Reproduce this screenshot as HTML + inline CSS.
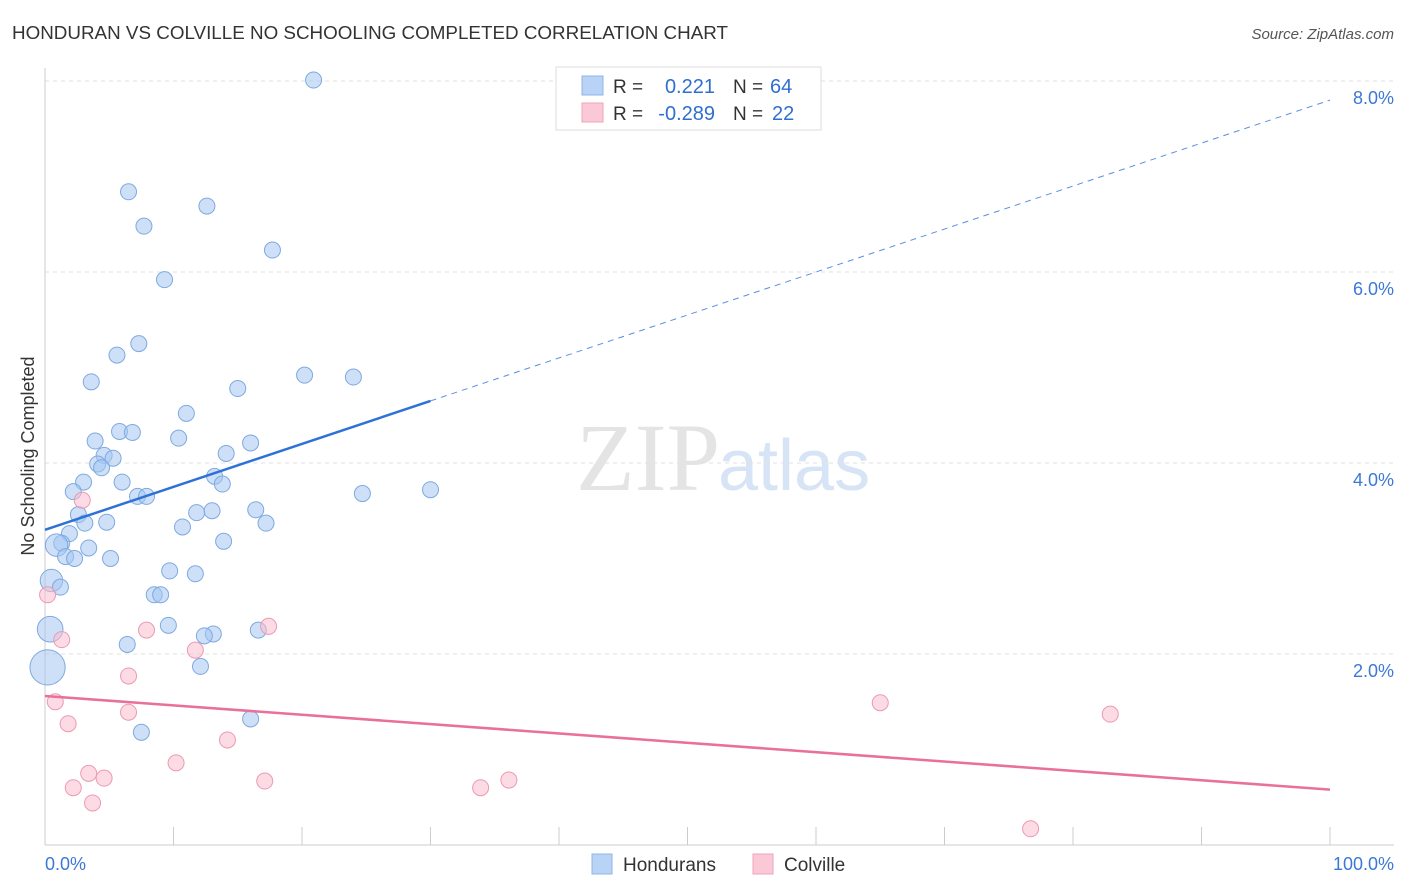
<!DOCTYPE html>
<html><head><meta charset="utf-8"><style>
body{margin:0;background:#fff;font-family:"Liberation Sans",sans-serif}
svg{display:block}
</style></head><body>
<svg id="c" width="1406" height="892">
<text x="12" y="39" font-size="18" fill="#333" textLength="716" lengthAdjust="spacingAndGlyphs">HONDURAN VS COLVILLE NO SCHOOLING COMPLETED CORRELATION CHART</text>
<text x="1394" y="39" font-size="15" fill="#555" font-style="italic" text-anchor="end">Source: ZipAtlas.com</text>
<text x="720" y="490" font-size="96" fill="#e4e4e4" text-anchor="end" font-family="Liberation Serif">ZIP</text>
<text x="718" y="490" font-size="72" fill="#d6e4f5">atlas</text>
<text transform="translate(34,456) rotate(-90)" font-size="18" fill="#333" text-anchor="middle">No Schooling Completed</text>
<g id="grid"></g><g id="marks"></g>
<g>
<rect x="556" y="67" width="265" height="63" fill="#fff" stroke="#ddd"/>
<rect x="582" y="76" width="21" height="19" fill="#b8d3f5" stroke="#8fb5e8"/>
<rect x="582" y="103" width="21" height="19" fill="#fac8d6" stroke="#eda5ba"/>
<text x="613" y="93" font-size="19" fill="#333">R =</text><text x="715" y="93" font-size="20" fill="#2f6fcf" text-anchor="end">0.221</text>
<text x="733" y="93" font-size="19" fill="#333">N =</text><text x="770" y="93" font-size="20" fill="#2f6fcf">64</text>
<text x="613" y="120" font-size="19" fill="#333">R =</text><text x="715" y="120" font-size="20" fill="#2f6fcf" text-anchor="end">-0.289</text>
<text x="733" y="120" font-size="19" fill="#333">N =</text><text x="772" y="120" font-size="20" fill="#2f6fcf">22</text>
</g>
<g>
<rect x="592" y="854" width="20" height="20" fill="#b8d3f5" stroke="#8fb5e8"/>
<text x="623" y="871" font-size="19" fill="#333">Hondurans</text>
<rect x="753" y="854" width="20" height="20" fill="#fac8d6" stroke="#eda5ba"/>
<text x="784" y="871" font-size="19" fill="#333">Colville</text>
</g>
<text x="45" y="870" font-size="18" fill="#3b78d8">0.0%</text>
<text x="1394" y="870" font-size="18" fill="#3b78d8" text-anchor="end">100.0%</text>
</svg>
<script>
const yTicks=[2,4,6,8];
const xTicks=[0,10,20,30,40,50,60,70,80,90,100];
const blueX=[20.9,6.5,12.6,7.7,17.7,9.3,7.3,5.6,20.2,24.0,3.6,15.0,11.0,5.8,6.8,10.4,3.9,16.0,14.1,4.6,5.3,4.1,4.4,13.2,3.0,6.0,13.8,30.0,2.2,7.2,7.9,24.7,16.4,13.0,11.8,2.6,3.1,4.8,17.2,10.7,1.9,1.3,13.9,0.9,3.4,1.6,2.3,5.1,9.7,11.7,0.5,1.2,8.5,9.0,9.6,0.4,16.6,13.1,12.4,6.4,0.2,12.1,16.0,7.5];
const blueY=[8.01,6.84,6.69,6.48,6.23,5.92,5.25,5.13,4.92,4.90,4.85,4.78,4.52,4.33,4.32,4.26,4.23,4.21,4.10,4.08,4.05,3.99,3.95,3.86,3.80,3.80,3.78,3.72,3.70,3.65,3.65,3.68,3.51,3.50,3.48,3.46,3.37,3.38,3.37,3.33,3.26,3.16,3.18,3.14,3.11,3.02,3.00,3.00,2.87,2.84,2.77,2.70,2.62,2.62,2.30,2.26,2.25,2.21,2.19,2.10,1.86,1.87,1.32,1.18];
const blueSize=[1,1,1,1,1,1,1,1,1,1,1,1,1,1,1,1,1,1,1,1,1,1,1,1,1,1,1,1,1,1,1,1,1,1,1,1,1,1,1,1,1,1,1,1.4,1,1,1,1,1,1,1.4,1,1,1,1,1.6,1,1,1,1,2.2,1,1,1];
const pinkX=[2.9,0.2,1.3,7.9,17.4,11.7,6.5,0.8,6.5,1.8,14.2,10.2,3.4,4.6,17.1,2.2,3.7,33.9,36.1,65.0,82.9,76.7];
const pinkY=[3.61,2.62,2.15,2.25,2.29,2.04,1.77,1.50,1.39,1.27,1.10,0.86,0.75,0.70,0.67,0.60,0.44,0.60,0.68,1.49,1.37,0.17];
const blueTrend=[3.30,7.80];
const pinkTrend=[1.56,0.58];
const X=v=>45+v*12.85, Y=v=>845-v*95.5;
const NS='http://www.w3.org/2000/svg';
function mk(p,t,a){const e=document.createElementNS(NS,t);for(const k in a)e.setAttribute(k,a[k]);p.appendChild(e);return e;}
const g=document.getElementById('grid'),m=document.getElementById('marks');
for(const t of yTicks){
 const l=mk(g,'line',{x1:45,x2:1394,y1:Y(t),y2:Y(t),stroke:'#e2e2e2','stroke-dasharray':'4,4'});
 
 
 const tx=mk(g,'text',{x:1394,y:Y(t)+23,'font-size':18,fill:'#3b78d8','text-anchor':'end'});
 tx.textContent=t.toFixed(1)+'%';
 
 
}
const ax=mk(g,'line',{x1:45,x2:45,y1:68,y2:845,stroke:'#ccc'});


const bx=mk(g,'line',{x1:45,x2:1394,y1:845,y2:845,stroke:'#ccc'});


for(const t of xTicks){
 const l=mk(g,'line',{x1:X(t),x2:X(t),y1:827,y2:845,stroke:'#ccc'});
 
 
}
blueX.forEach((v,i)=>{
 const c=mk(m,'circle',{cx:X(v),cy:Y(blueY[i]),r:8*blueSize[i],fill:'rgba(164,199,242,0.55)',stroke:'#7fa9e0','stroke-width':1});
 
 
});
pinkX.forEach((v,i)=>{
 const c=mk(m,'circle',{cx:X(v),cy:Y(pinkY[i]),r:8,fill:'rgba(249,190,208,0.55)',stroke:'#eb9ab3','stroke-width':1});
 
 
});
const bt=v=>blueTrend[0]+(blueTrend[1]-blueTrend[0])*v/100;
const l1=mk(m,'line',{x1:X(0),y1:Y(bt(0)),x2:X(30),y2:Y(bt(30)),stroke:'#2f72d6','stroke-width':2.5});


const l2=mk(m,'line',{x1:X(30),y1:Y(bt(30)),x2:X(100),y2:Y(bt(100)),stroke:'#5a90de','stroke-width':1,'stroke-dasharray':'6,5'});


const l3=mk(m,'line',{x1:X(0),y1:Y(pinkTrend[0]),x2:X(100),y2:Y(pinkTrend[1]),stroke:'#e8709a','stroke-width':2.5});


</script>
</body></html>
